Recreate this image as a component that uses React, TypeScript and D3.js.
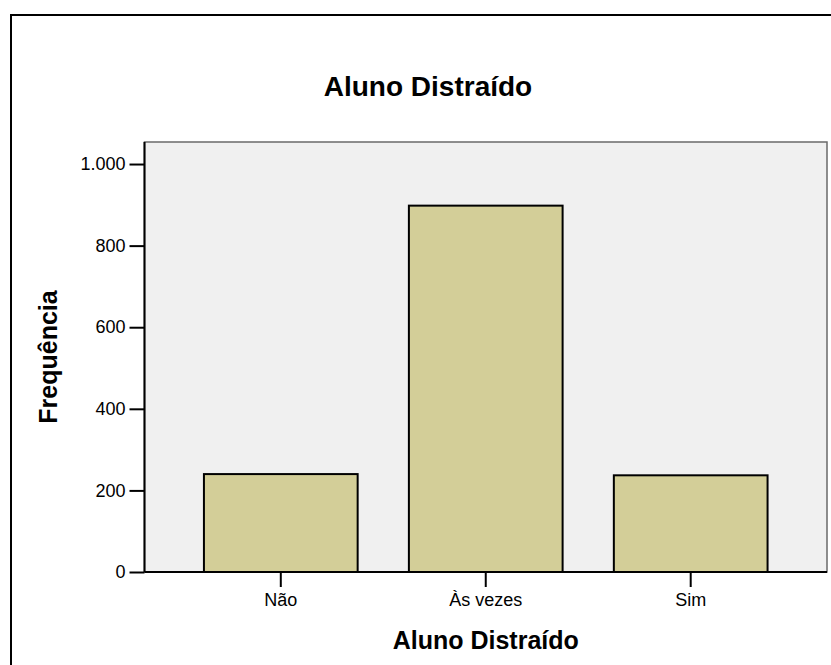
import { useEffect, useRef } from 'react';
import * as d3 from 'd3';

const categories = ['Não', 'Às vezes', 'Sim'];
const frequencies = [240, 898, 237];
const yTicks = [0, 200, 400, 600, 800, 1000];
const chartTitle = 'Aluno Distraído';
const xTitle = 'Aluno Distraído';
const yTitle = 'Frequência';

const width = 831;
const height = 665;
const margin = { left: 144.5, right: 4, top: 142, bottom: 93 };
const font = '"Liberation Sans", Arial, Helvetica, sans-serif';

function App() {
  const svgRef = useRef<SVGSVGElement>(null);

  useEffect(() => {
    if (svgRef.current === null) return;
    const svg = d3.select(svgRef.current);
    svg.selectAll('*').remove();

    const x0 = margin.left;
    const x1 = width - margin.right;
    const y0 = height - margin.bottom;
    const y1 = margin.top;

    const x = d3
      .scaleBand()
      .domain(categories)
      .range([x0, x1])
      .paddingInner(0.25)
      .paddingOuter(0.29);

    const y = d3.scaleLinear().domain([0, 1054]).range([y0, y1]);

    const ptBR = d3.formatLocale({
      decimal: ',',
      thousands: '.',
      grouping: [3],
      currency: ['', ''],
    });
    const fmt = ptBR.format(',d');

    // outer frame (cropped on right and bottom)
    svg.append('line')
      .attr('x1', 11).attr('x2', 11).attr('y1', 14).attr('y2', height)
      .attr('stroke', '#000').attr('stroke-width', 2);
    svg.append('line')
      .attr('x1', 10).attr('x2', width).attr('y1', 15).attr('y2', 15)
      .attr('stroke', '#000').attr('stroke-width', 2);

    // plot background
    svg.append('rect')
      .attr('x', x0).attr('y', y1)
      .attr('width', x1 - x0).attr('height', y0 - y1)
      .attr('fill', '#f0f0f0')
      .attr('stroke', '#6a6a6a')
      .attr('stroke-width', 1.5);

    // bars
    svg.append('g')
      .selectAll('rect')
      .data(frequencies)
      .enter()
      .append('rect')
      .attr('x', (_d, i) => x(categories[i]) || 0)
      .attr('y', (d) => y(d))
      .attr('width', x.bandwidth())
      .attr('height', (d) => y0 - y(d))
      .attr('fill', '#d3ce98')
      .attr('stroke', '#000')
      .attr('stroke-width', 2);

    // y axis
    const yAxis = svg.append('g')
      .attr('transform', `translate(${x0}, 0)`)
      .call(d3.axisLeft(y).tickValues(yTicks).tickFormat((d: any) => fmt(d)).tickSize(15).tickPadding(4));
    yAxis.select('.domain').attr('stroke', '#000').attr('stroke-width', 2)
      .attr('d', `M0,${y0}V${y1}`);
    yAxis.selectAll('.tick line').attr('stroke', '#000').attr('stroke-width', 2);
    yAxis.selectAll('.tick text')
      .attr('font-family', font).attr('font-size', 18).attr('fill', '#000');

    // x axis
    const xAxis = svg.append('g')
      .attr('transform', `translate(0, ${y0})`)
      .call(d3.axisBottom(x).tickSize(15).tickPadding(6));
    xAxis.select('.domain').attr('stroke', '#000').attr('stroke-width', 2)
      .attr('d', `M${x0},0H${x1}`);
    xAxis.selectAll('.tick line').attr('stroke', '#000').attr('stroke-width', 2);
    xAxis.selectAll('.tick text')
      .attr('font-family', font).attr('font-size', 18).attr('fill', '#000');

    // titles
    svg.append('text')
      .attr('x', 428).attr('y', 96)
      .attr('text-anchor', 'middle')
      .attr('font-family', font).attr('font-size', 28).attr('font-weight', 'bold')
      .text(chartTitle);

    svg.append('text')
      .attr('x', (x0 + x1) / 2).attr('y', 649)
      .attr('text-anchor', 'middle')
      .attr('font-family', font).attr('font-size', 25).attr('font-weight', 'bold')
      .text(xTitle);

    svg.append('text')
      .attr('transform', `translate(57, ${(y0 + y1) / 2}) rotate(-90)`)
      .attr('text-anchor', 'middle')
      .attr('font-family', font).attr('font-size', 25).attr('font-weight', 'bold')
      .text(yTitle);
  }, [svgRef]);

  return (
    <svg
      ref={svgRef}
      width={width}
      height={height}
      style={{ position: 'absolute', left: 0, top: 0, background: '#fff' }}
    />
  );
}

export default App;
